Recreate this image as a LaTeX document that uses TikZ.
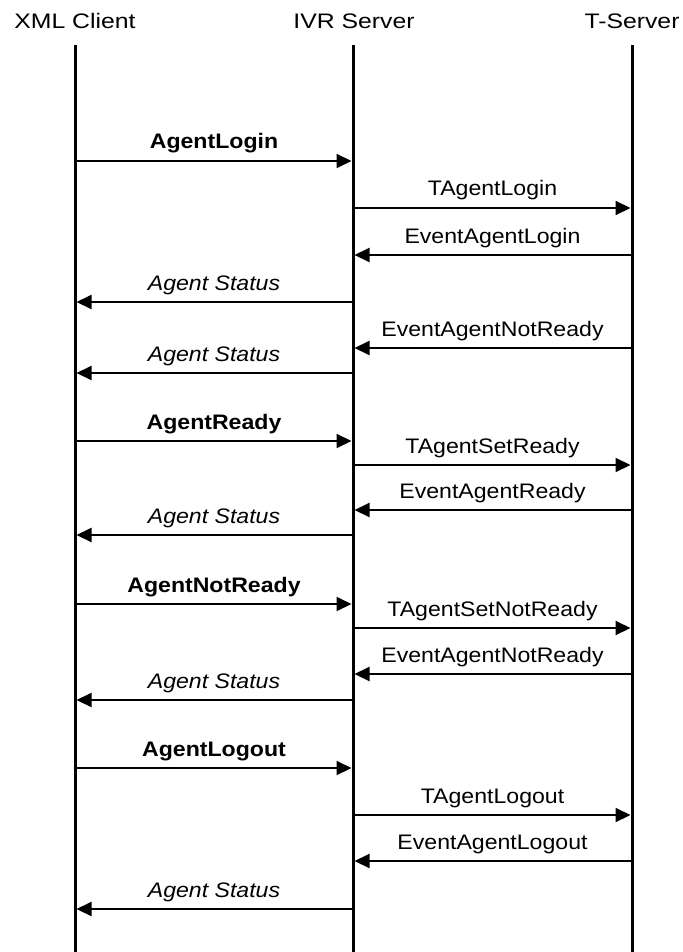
\documentclass[tikz,border=0pt]{standalone}
\usepackage{fontspec}
\setmainfont{Liberation Sans}
\usetikzlibrary{arrows.meta}
\newcommand{\hdr}[1]{\scalebox{1.18}[1]{#1}}
\newcommand{\lbl}[1]{\scalebox{1.1}[1]{#1}}
\newcommand{\msg}[5]{%
  \draw[msgline] (#2 |- 0,#1) -- (#3 |- 0,#1)
    node[lb, midway, yshift=12pt] {\lbl{#5#4}};}
\begin{document}
\begin{tikzpicture}[x=1pt,y=-1pt,
  life/.style={line width=3pt},
  msgline/.style={line width=2pt, shorten >=1.5pt, -{Triangle[length=15pt,width=14pt]}},
  hd/.style={anchor=base, inner sep=0pt, font=\fontsize{21}{25}\selectfont},
  lb/.style={anchor=base, inner sep=0pt, font=\fontsize{21}{25}\selectfont}]
\useasboundingbox[fill=white] (0,0) rectangle (682,952);
% headers
\node[hd] (hA) at (75,29) {\hdr{XML Client}};
\node[hd] (hB) at (354,29) {\hdr{IVR Server}};
\node[hd] (hC) at (632,29) {\hdr{T-Server}};
% lifelines
\coordinate (A0) at (75,45);  \coordinate (A1) at (75,952);
\coordinate (B0) at (353,45); \coordinate (B1) at (353,952);
\coordinate (C0) at (632,45); \coordinate (C1) at (632,952);
\draw[life] (A0) -- (A1);
\draw[life] (B0) -- (B1);
\draw[life] (C0) -- (C1);
% messages
\msg{161}{A0}{B0}{AgentLogin}{\bfseries}
\msg{208}{B0}{C0}{TAgentLogin}{}
\msg{255}{C0}{B0}{EventAgentLogin}{}
\msg{302}{B0}{A0}{Agent Status}{\itshape}
\msg{348}{C0}{B0}{EventAgentNotReady}{}
\msg{373}{B0}{A0}{Agent Status}{\itshape}
\msg{441}{A0}{B0}{AgentReady}{\bfseries}
\msg{465}{B0}{C0}{TAgentSetReady}{}
\msg{510}{C0}{B0}{EventAgentReady}{}
\msg{535}{B0}{A0}{Agent Status}{\itshape}
\msg{604}{A0}{B0}{AgentNotReady}{\bfseries}
\msg{628}{B0}{C0}{TAgentSetNotReady}{}
\msg{674}{C0}{B0}{EventAgentNotReady}{}
\msg{700}{B0}{A0}{Agent Status}{\itshape}
\msg{768}{A0}{B0}{AgentLogout}{\bfseries}
\msg{815}{B0}{C0}{TAgentLogout}{}
\msg{861}{C0}{B0}{EventAgentLogout}{}
\msg{909}{B0}{A0}{Agent Status}{\itshape}
\end{tikzpicture}
\end{document}
